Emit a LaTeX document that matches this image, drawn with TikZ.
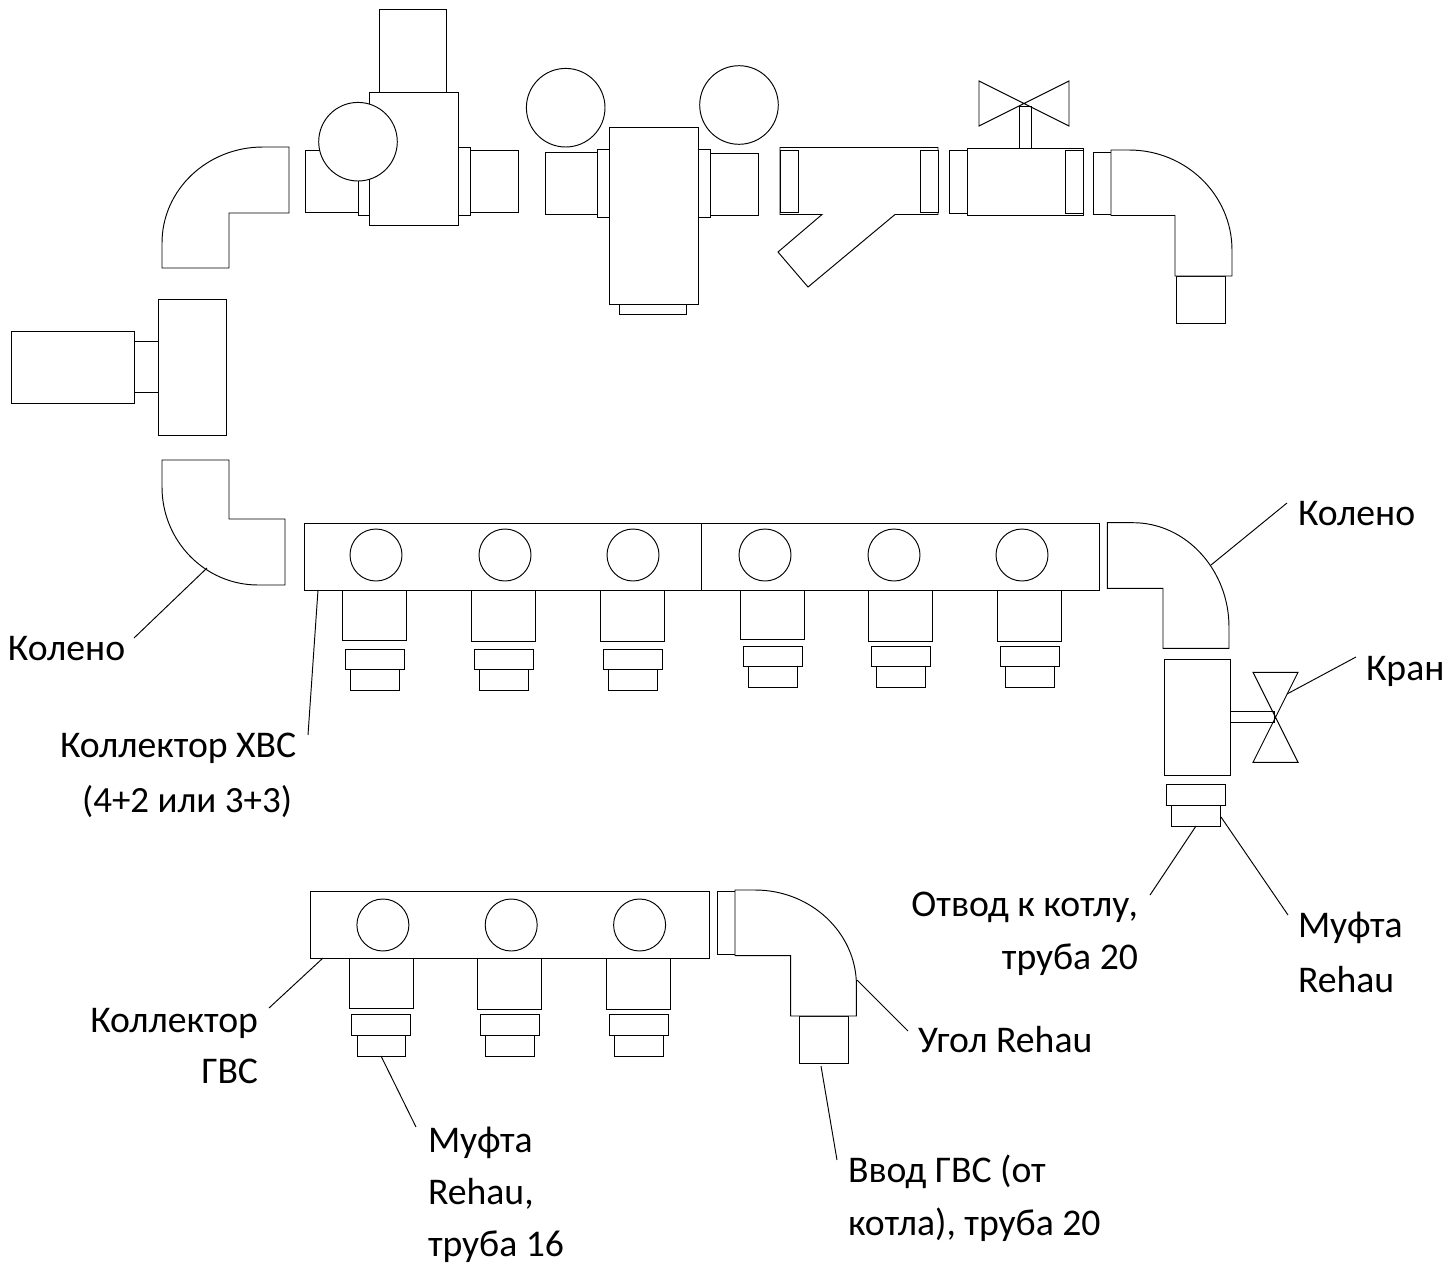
\documentclass[tikz,border=0pt]{standalone}
\usepackage{fontspec}
\setmainfont{Carlito}
\tikzset{
  part/.style={draw=black,line width=0.95pt,fill=white,line join=miter},
  lead/.style={draw=black,line width=0.95pt},
  lbl/.style={anchor=base west,inner sep=0pt,outer sep=0pt,font=\fontsize{37.7}{46}\selectfont,text=black},
  lblr/.style={anchor=base east,inner sep=0pt,outer sep=0pt,font=\fontsize{37.7}{46}\selectfont,text=black}
}
\begin{document}
\begin{tikzpicture}[x=1pt,y=-1pt]
\useasboundingbox (0,0) rectangle (1449,1266);
\fill[white] (0,0) rectangle (1449,1266);
% top-left elbow
\path[part] (162,268) -- (162,243) .. controls (162,190) and (207,147) .. (263,147) -- (289,147) -- (289,213) -- (229,213) -- (229,268) -- cycle;
% reducer with gauge
\path[part] (379,9) rectangle (446,92.5);
\path[part] (305.7,150) rectangle (358,212);
\path[part] (358,147) rectangle (369,215);
\path[part] (458,147.5) rectangle (470,215);
\path[part] (470,150.5) rectangle (518,212.5);
\path[part] (369,92.5) rectangle (458,225.5);
\path[part] (358,141.7) circle[radius=39.3];
% filter body
\path[part] (565.7,107.7) circle[radius=39.3];
\path[part] (545.3,152.5) rectangle (597.7,214.3);
\path[part] (597.7,149.7) rectangle (609,217.5);
\path[part] (619,304) rectangle (686,314);
\path[part] (609,127.5) rectangle (698,304);
\path[part] (698,149.5) rectangle (710,217);
\path[part] (710,153) rectangle (758,215);
\path[part] (739,105) circle[radius=39.3];
% Y strainer
\path[part] (780,147.5) -- (938,147.5) -- (938,214.5) -- (895,214.5) -- (808,287) -- (778,252) -- (822,214.5) -- (780,214.5) -- cycle;
\path[part] (780,150) rectangle (798,212);
\path[part] (920,150) rectangle (938,212);
% ball valve
\path[part] (949,150.5) rectangle (967,213);
\path[part] (1019,106) rectangle (1031,148);
\path[part] (967,148) rectangle (1083,215);
\path[part] (1065,150) rectangle (1083,213);
\path[part,fill=none] (979,81) -- (1069,126) -- (1069,81) -- (979,126) -- cycle;
% top-right elbow
\path[part] (1093,152) rectangle (1111,214);
\path[part] (1176,276) rectangle (1225,323.5);
\path[part] (1111,150) -- (1129,150) .. controls (1186,150) and (1232,195) .. (1232,250) -- (1232,276) -- (1175,276) -- (1175,215.5) -- (1111,215.5) -- cycle;
% left block
\path[part] (11,331) rectangle (134,403);
\path[part] (134,341) rectangle (158,392);
\path[part] (158,299) rectangle (226,435);
% elbow at collector
\path[part] (162,460) -- (229,460) -- (229,519) -- (285,519) -- (285,585) -- (258,585) .. controls (205,585) and (162,541) .. (162,487) -- cycle;
% cold collector
\path[part] (304,523) rectangle (1099,590);
\draw[part] (701,523) -- (701,590);
\foreach \cx in {376,505,633,765,894,1022} \path[part] (\cx,555) circle[radius=26];
\foreach \xa/\ya/\yb in {342/590/640,471/590/641,600/590/641,740/590/639,868/590/641,997/590/641}
  \path[part] (\xa,\ya) rectangle (\xa+64.5,\yb);
\foreach \xa/\ya in {345/649,474/649,603/649,743/646,871/646,1000/646}{
  \path[part] (\xa+5,\ya+20) rectangle (\xa+54,\ya+41);
  \path[part] (\xa,\ya) rectangle (\xa+59,\ya+20);
}
% right elbow and tee
\path[part] (1107.3,522.7) -- (1133,522.7) .. controls (1186,522.7) and (1229,570) .. (1229,627) -- (1229,648.3) -- (1163,648.3) -- (1163,588.3) -- (1107.3,588.3) -- cycle;
\path[part] (1230.7,711.7) rectangle (1274,722.7);
\path[part] (1164,659.3) rectangle (1230.7,775.3);
\path[part,fill=none] (1253,672.3) -- (1298,762.3) -- (1253,762.3) -- (1298,672.3) -- cycle;
\path[part] (1171.3,805.3) rectangle (1220.7,826);
\path[part] (1166.3,784.3) rectangle (1225.7,805.3);
% hot collector
\path[part] (310.7,891) rectangle (709,958.3);
\foreach \cx in {382.9,511.2,639.6} \path[part] (\cx,925) circle[radius=26];
\foreach \xa/\yb in {349.2/1008.3,477.6/1009.3,606.3/1009}
  \path[part] (\xa,958.3) rectangle (\xa+64,\yb);
\foreach \xa in {351.8,480.5,609}{
  \path[part] (\xa+5.2,1035.3) rectangle (\xa+54,1056);
  \path[part] (\xa,1014.3) rectangle (\xa+59,1035.3);
}
% hot elbow
\path[part] (717.3,891.7) rectangle (735,954);
\path[part] (799.8,1016) rectangle (848.6,1063.3);
\path[part] (735,890) -- (755,890) .. controls (811,890) and (856.4,933) .. (856.4,985) -- (856.4,1016) -- (790.6,1016) -- (790.6,955.7) -- (735,955.7) -- cycle;
% labels
\node[lbl] (tKolL) at (8,660) {Колено};
\node[lbl] (tKolR) at (1298,525) {Колено};
\node[lbl] (tKran) at (1366,680) {Кран};
\node[lbl] (tXvs1) at (60,757) {Коллектор ХВС};
\node[lblr,font=\fontsize{37}{46}\selectfont] (tXvs2) at (292,812) {(4+2 или 3+3)};
\node[lblr] (tOtv1) at (1138,916) {Отвод к котлу,};
\node[lblr] (tOtv2) at (1138,969) {труба 20};
\node[lbl] (tMuf1) at (1298,937) {Муфта};
\node[lbl] (tMuf2) at (1298,992) {Rehau};
\node[lblr] (tGvs1) at (258,1032) {Коллектор};
\node[lblr] (tGvs2) at (258,1083) {ГВС};
\node[lbl] (tUgol) at (918,1052) {Угол Rehau};
\node[lbl] (tM161) at (428,1152) {Муфта};
\node[lbl] (tM162) at (428,1204) {Rehau,};
\node[lbl] (tM163) at (428,1256) {труба 16};
\node[lbl] (tVv1) at (848,1182) {Ввод ГВС (от};
\node[lbl] (tVv2) at (848,1235) {котла), труба 20};
% leaders
\coordinate (a1) at (207,568); \coordinate (b1) at (134,638);
\coordinate (a2) at (1211,565); \coordinate (b2) at (1287,503);
\coordinate (a3) at (1287,694); \coordinate (b3) at (1356,657);
\coordinate (a4) at (318,590); \coordinate (b4) at (308,735);
\coordinate (a5) at (1196,826); \coordinate (b5) at (1150,895);
\coordinate (a6) at (1221,817); \coordinate (b6) at (1288,915);
\coordinate (a7) at (323,958); \coordinate (b7) at (269,1008);
\coordinate (a8) at (381,1056); \coordinate (b8) at (416,1127);
\coordinate (a9) at (821,1066); \coordinate (b9) at (837,1160);
\coordinate (a10) at (857,980); \coordinate (b10) at (908,1031);
\foreach \i in {1,...,10} \draw[lead] (a\i) -- (b\i);
\end{tikzpicture}
\end{document}
